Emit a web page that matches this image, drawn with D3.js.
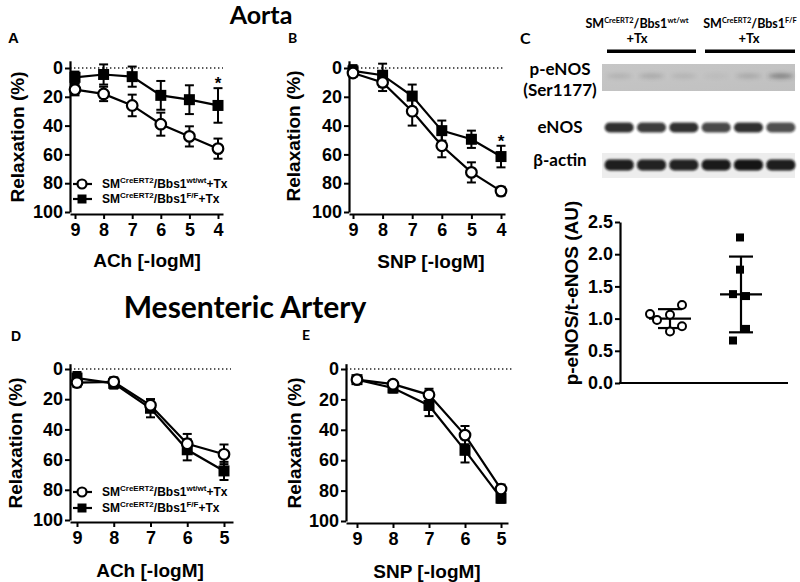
<!DOCTYPE html>
<html><head><meta charset="utf-8">
<script src="https://cdn.jsdelivr.net/npm/d3@7"></script>
<style>body{margin:0;background:#fff} svg{display:block}</style>
</head><body><svg id="c" width="800" height="582"></svg>
<script>
// ---------- data ----------
const doseAorta = [9, 8, 7, 6, 5, 4];
const doseMes = [9, 8, 7, 6, 5];
const aAchWT = [15, 18, 26, 39, 47.5, 56];
const aAchWTErr = [4, 5, 7.5, 8, 7, 7];
const aAchKO = [6.5, 4.5, 6, 19, 22, 26];
const aAchKOErr = [4, 7, 7, 10, 10, 12];
const aSnpWT = [3.5, 10, 30, 54, 72.5, 85.5];
const aSnpWTErr = [2, 6, 10, 8, 7, 3];
const aSnpKO = [2, 5, 19.5, 43.5, 49.5, 61.5];
const aSnpKOErr = [4, 8, 8, 7, 6, 7.5];
const mAchWT = [9, 8.5, 24, 49.5, 56.5];
const mAchWTErr = [3, 3, 4, 6.5, 6.5];
const mAchKO = [6, 9.5, 26, 53.5, 67.5];
const mAchKOErr = [4, 3.5, 6, 7, 6];
const mSnpWT = [7, 10, 17, 43.5, 79];
const mSnpWTErr = [1, 2, 4, 6, 3];
const mSnpKO = [7, 12.5, 24, 53.5, 85];
const mSnpKOErr = [1, 3, 7, 8, 3];
const relaxTicks = [0, 20, 40, 60, 80, 100];
const ratioGroups = ["WT", "KO"];
const ratioWT = [1.07, 0.98, 1.06, 1.21, 0.88, 0.80];
const ratioKO = [2.26, 1.76, 1.38, 1.35, 0.84, 0.66];
const ratioTicks = [0, 0.5, 1.0, 1.5, 2.0, 2.5];
const lanes = ["wt1", "wt2", "wt3", "ko1", "ko2", "ko3"];
const pEnosSignal = [0.14, 0.2, 0.12, 0.06, 0.2, 0.5];
const enosSignal = [0.85, 0.8, 0.85, 0.75, 0.85, 0.72];
const actinSignal = [0.92, 0.9, 0.9, 0.94, 0.96, 0.92];

// ---------- layout ----------
const AX = "Liberation Sans, Arial, sans-serif";
const CAL = "Lato, 'Open Sans', sans-serif";
const svg = d3.select("#c");
const wtLbl = [["SM", 0], ["CreERT2", 1], ["/Bbs1", 0], ["wt/wt", 1], ["+Tx", 0]];
const koLbl = [["SM", 0], ["CreERT2", 1], ["/Bbs1", 0], ["F/F", 1], ["+Tx", 0]];

function rich(g, x, y, parts, size, sup, family, anchor) {
  const t = g.append("text").attr("x", x).attr("y", y).attr("font-family", family)
    .attr("font-weight", "bold").attr("font-size", size).attr("text-anchor", anchor || "start");
  let prevSup = false;
  parts.forEach(([s, isSup]) => {
    const ts = t.append("tspan").text(s);
    if (isSup) { ts.attr("font-size", sup).attr("dy", prevSup ? 0 : -size * 0.38); }
    else if (prevSup) { ts.attr("dy", size * 0.38); }
    prevSup = !!isSup;
  });
  return t;
}

function styleAxis(a) {
  a.select(".domain").attr("stroke-width", 2.2);
  a.selectAll(".tick line").attr("stroke-width", 2);
  a.selectAll("text").attr("font-family", AX).attr("font-weight", "bold").attr("font-size", 18).attr("fill", "#000");
}

function panel(cfg) {
  const g = svg.append("g");
  const x = d3.scaleLinear().domain(cfg.xDom).range(cfg.xRange);
  const k = (cfg.y100 - cfg.y0) / 100;
  const y = d3.scaleLinear().domain([-cfg.yOver, 100]).range([cfg.y0 - cfg.yOver * k, cfg.y100]);
  g.append("line").attr("x1", cfg.xRange[0]).attr("x2", cfg.dotEnd).attr("y1", y(0)).attr("y2", y(0))
    .attr("stroke", "#222").attr("stroke-width", 1.4).attr("stroke-dasharray", "1.4 2.6");
  styleAxis(g.append("g").attr("transform", `translate(${cfg.xRange[0]},0)`)
    .call(d3.axisLeft(y).tickValues(relaxTicks).tickSize(5).tickSizeOuter(0).tickPadding(2)));
  styleAxis(g.append("g").attr("transform", `translate(0,${cfg.y100 + 2})`)
    .call(d3.axisBottom(x).tickValues(cfg.doses).tickFormat(d3.format("d")).tickSize(5).tickSizeOuter(0).tickPadding(4)));
  g.append("text").attr("transform", `translate(${cfg.yLblX},${cfg.yLblY}) rotate(-90)`)
    .attr("text-anchor", "middle").attr("font-family", AX).attr("font-weight", "bold").attr("font-size", 19)
    .text("Relaxation (%)");
  g.append("text").attr("x", cfg.xLblX).attr("y", cfg.xLblY).attr("text-anchor", "middle")
    .attr("font-family", AX).attr("font-weight", "bold").attr("font-size", 19).text(cfg.xLbl);
  g.append("text").attr("x", cfg.letter[1]).attr("y", cfg.letter[2]).attr("font-family", cfg.letter[3])
    .attr("font-weight", "bold").attr("font-size", cfg.letter[4]).text(cfg.letter[0]);
  const series = [
    { v: cfg.ko, e: cfg.koErr, filled: true },
    { v: cfg.wt, e: cfg.wtErr, filled: false }
  ];
  series.forEach(s => {
    const pts = cfg.doses.map((d, i) => ({ d, v: s.v[i], e: s.e[i] }));
    g.append("path").datum(pts).attr("fill", "none").attr("stroke", "#000").attr("stroke-width", 2.2)
      .attr("d", d3.line().x(p => x(p.d)).y(p => y(p.v)));
    const eb = g.append("g").attr("stroke", "#000").attr("stroke-width", 2);
    pts.forEach(p => {
      eb.append("line").attr("x1", x(p.d)).attr("x2", x(p.d)).attr("y1", y(p.v - p.e)).attr("y2", y(p.v + p.e));
      [p.v - p.e, p.v + p.e].forEach(vv => eb.append("line").attr("x1", x(p.d) - 4.5).attr("x2", x(p.d) + 4.5)
        .attr("y1", y(vv)).attr("y2", y(vv)));
    });
    pts.forEach(p => {
      if (s.filled) g.append("rect").attr("x", x(p.d) - 5.5).attr("y", y(p.v) - 5.5).attr("width", 11).attr("height", 11).attr("fill", "#000");
      else g.append("circle").attr("cx", x(p.d)).attr("cy", y(p.v)).attr("r", 5.3).attr("fill", "#fff").attr("stroke", "#000").attr("stroke-width", 2.2);
    });
  });
  if (cfg.star) {
    const i = cfg.doses.length - 1;
    g.append("text").attr("x", x(cfg.doses[i])).attr("y", y(cfg.ko[i] - cfg.koErr[i]) + 1)
      .attr("text-anchor", "middle").attr("font-family", AX).attr("font-weight", "bold").attr("font-size", 17).text("*");
  }
  if (cfg.legend) {
    const [lx, ly1, ly2] = cfg.legend;
    g.append("line").attr("x1", lx - 9).attr("x2", lx + 10).attr("y1", ly1).attr("y2", ly1).attr("stroke", "#000").attr("stroke-width", 2.2);
    g.append("circle").attr("cx", lx).attr("cy", ly1).attr("r", 4.5).attr("fill", "#fff").attr("stroke", "#000").attr("stroke-width", 2.2);
    g.append("line").attr("x1", lx - 9).attr("x2", lx + 10).attr("y1", ly2).attr("y2", ly2).attr("stroke", "#000").attr("stroke-width", 2.2);
    g.append("rect").attr("x", lx - 4.5).attr("y", ly2 - 4.5).attr("width", 9).attr("height", 9).attr("fill", "#000");
    rich(g, lx + 20, ly1 + 4, wtLbl, 12, 8, AX);
    rich(g, lx + 20, ly2 + 4, koLbl, 12, 8, AX);
  }
}

panel({ doses: doseAorta, wt: aAchWT, wtErr: aAchWTErr, ko: aAchKO, koErr: aAchKOErr,
  xDom: [9.175, 3.825], xRange: [70, 223], y0: 68, y100: 212, yOver: 5, dotEnd: 223,
  yLblX: 24, yLblY: 137, xLbl: "ACh [-logM]", xLblX: 147, xLblY: 267,
  letter: ["A", 8, 43, AX, 15], star: true, legend: [82, 184, 199] });
panel({ doses: doseAorta, wt: aSnpWT, wtErr: aSnpWTErr, ko: aSnpKO, koErr: aSnpKOErr,
  xDom: [9.135, 3.865], xRange: [349, 505], y0: 68, y100: 212, yOver: 5, dotEnd: 505,
  yLblX: 300, yLblY: 136, xLbl: "SNP [-logM]", xLblX: 431, xLblY: 268,
  letter: ["B", 288, 43, CAL, 14], star: true });
panel({ doses: doseMes, wt: mAchWT, wtErr: mAchWTErr, ko: mAchKO, koErr: mAchKOErr,
  xDom: [9.19, 4.755], xRange: [70, 233], y0: 369, y100: 520, yOver: 3.5, dotEnd: 231,
  yLblX: 22, yLblY: 443, xLbl: "ACh [-logM]", xLblX: 150, xLblY: 577,
  letter: ["D", 11, 341, AX, 14], legend: [82, 492, 508] });
panel({ doses: doseMes, wt: mSnpWT, wtErr: mSnpWTErr, ko: mSnpKO, koErr: mSnpKOErr,
  xDom: [9.305, 4.806], xRange: [346, 508], y0: 369, y100: 521, yOver: 3.5, dotEnd: 513,
  yLblX: 301, yLblY: 443, xLbl: "SNP [-logM]", xLblX: 427, xLblY: 578,
  letter: ["E", 302, 340, CAL, 14] });

svg.append("text").attr("x", 261).attr("y", 24).attr("text-anchor", "middle").attr("font-family", CAL)
  .attr("font-weight", "bold").attr("font-size", 25).text("Aorta");
svg.append("text").attr("x", 245).attr("y", 318).attr("text-anchor", "middle").attr("font-family", CAL)
  .attr("font-weight", "bold").attr("font-size", 30).text("Mesenteric Artery");

// ---------- panel C: blot ----------
const defs = svg.append("defs");
defs.append("filter").attr("id", "blur").attr("x", "-20%").attr("y", "-50%").attr("width", "140%").attr("height", "200%")
  .append("feGaussianBlur").attr("stdDeviation", 1.2);
defs.append("filter").attr("id", "blur2").attr("x", "-20%").attr("y", "-100%").attr("width", "140%").attr("height", "300%")
  .append("feGaussianBlur").attr("stdDeviation", 2.2);
const pg = defs.append("linearGradient").attr("id", "pgrad").attr("x1", 0).attr("y1", 0).attr("x2", 1).attr("y2", 1);
pg.append("stop").attr("offset", 0).attr("stop-color", "#c6c6c6");
pg.append("stop").attr("offset", 1).attr("stop-color", "#c0c0c0");

const C = svg.append("g");
C.append("text").attr("x", 520).attr("y", 44).attr("font-family", CAL).attr("font-weight", "bold").attr("font-size", 16).text("C");
rich(C, 637, 28, [["SM", 0], ["CreERT2", 1], ["/Bbs1", 0], ["wt/wt", 1]], 12.5, 7.5, CAL, "middle");
C.append("text").attr("x", 637).attr("y", 43).attr("text-anchor", "middle").attr("font-family", CAL).attr("font-weight", "bold").attr("font-size", 13).text("+Tx");
rich(C, 750, 28, [["SM", 0], ["CreERT2", 1], ["/Bbs1", 0], ["F/F", 1]], 12.5, 7.5, CAL, "middle");
C.append("text").attr("x", 749).attr("y", 43).attr("text-anchor", "middle").attr("font-family", CAL).attr("font-weight", "bold").attr("font-size", 13).text("+Tx");
C.append("rect").attr("x", 607).attr("y", 49.5).attr("width", 89).attr("height", 3.5).attr("fill", "#000");
C.append("rect").attr("x", 705).attr("y", 49.5).attr("width", 90).attr("height", 3.5).attr("fill", "#000");
[["p-eNOS", 75], ["(Ser1177)", 96], ["eNOS", 133], ["β-actin", 166]].forEach(([t, yy]) =>
  C.append("text").attr("x", 560).attr("y", yy).attr("text-anchor", "middle").attr("font-family", CAL)
    .attr("font-weight", "bold").attr("font-size", 17).text(t));

const lx = d3.scaleBand().domain(lanes).range([604, 796]).paddingInner(0.1).paddingOuter(0.02);
C.append("rect").attr("x", 602).attr("y", 64).attr("width", 193).attr("height", 27).attr("fill", "url(#pgrad)");
C.append("rect").attr("x", 602).attr("y", 153).attr("width", 193).attr("height", 25).attr("fill", "#ededed");
const bands = C.append("g");
lanes.forEach((l, i) => {
  bands.append("ellipse").attr("cx", lx(l) + lx.bandwidth() / 2).attr("cy", 76).attr("rx", lx.bandwidth() / 2.3).attr("ry", 2.2)
    .attr("fill", "#333").attr("opacity", pEnosSignal[i]).attr("filter", "url(#blur2)");
  bands.append("rect").attr("x", lx(l)).attr("y", 122.5).attr("width", lx.bandwidth()).attr("height", 10).attr("rx", 5)
    .attr("fill", "#111").attr("opacity", enosSignal[i]).attr("filter", "url(#blur)");
  bands.append("rect").attr("x", lx(l)).attr("y", 159.5).attr("width", lx.bandwidth()).attr("height", 11).attr("rx", 5)
    .attr("fill", "#0a0a0a").attr("opacity", actinSignal[i]).attr("filter", "url(#blur)");
});

// ---------- panel C: ratio scatter ----------
const sy = d3.scaleLinear().domain([0, 2.5]).range([383, 222]);
const sx = d3.scalePoint().domain(ratioGroups).range([670, 741]);
const dotOffsets = { WT: [-20, -13, 0, 12, 12, 0], KO: [-1, -1, -8, 5, 5, -8] };
const S = svg.append("g");
styleAxis(S.append("g").attr("transform", "translate(620,0)")
  .call(d3.axisLeft(sy).tickValues(ratioTicks).tickFormat(d3.format(".1f")).tickSize(5).tickSizeOuter(0).tickPadding(2)));
S.append("line").attr("x1", 619).attr("x2", 788).attr("y1", 383).attr("y2", 383).attr("stroke", "#000").attr("stroke-width", 2.2);
S.append("text").attr("transform", "translate(578,293) rotate(-90)").attr("text-anchor", "middle")
  .attr("font-family", AX).attr("font-weight", "bold").attr("font-size", 19).text("p-eNOS/t-eNOS (AU)");
[["WT", ratioWT], ["KO", ratioKO]].forEach(([grp, vals]) => {
  const cx = sx(grp), m = d3.mean(vals), sd = d3.deviation(vals);
  const e = S.append("g").attr("stroke", "#000").attr("stroke-width", 2.2);
  e.append("line").attr("x1", cx).attr("x2", cx).attr("y1", sy(m - sd)).attr("y2", sy(m + sd));
  e.append("line").attr("x1", cx - 21).attr("x2", cx + 21).attr("y1", sy(m)).attr("y2", sy(m));
  [m - sd, m + sd].forEach(v => e.append("line").attr("x1", cx - 12).attr("x2", cx + 12).attr("y1", sy(v)).attr("y2", sy(v)));
  vals.forEach((v, i) => {
    const px = cx + dotOffsets[grp][i];
    if (grp === "WT") S.append("circle").attr("cx", px).attr("cy", sy(v)).attr("r", 4).attr("fill", "#fff").attr("stroke", "#000").attr("stroke-width", 2);
    else S.append("rect").attr("x", px - 4).attr("y", sy(v) - 4).attr("width", 8).attr("height", 8).attr("fill", "#000");
  });
});
</script></body></html>
